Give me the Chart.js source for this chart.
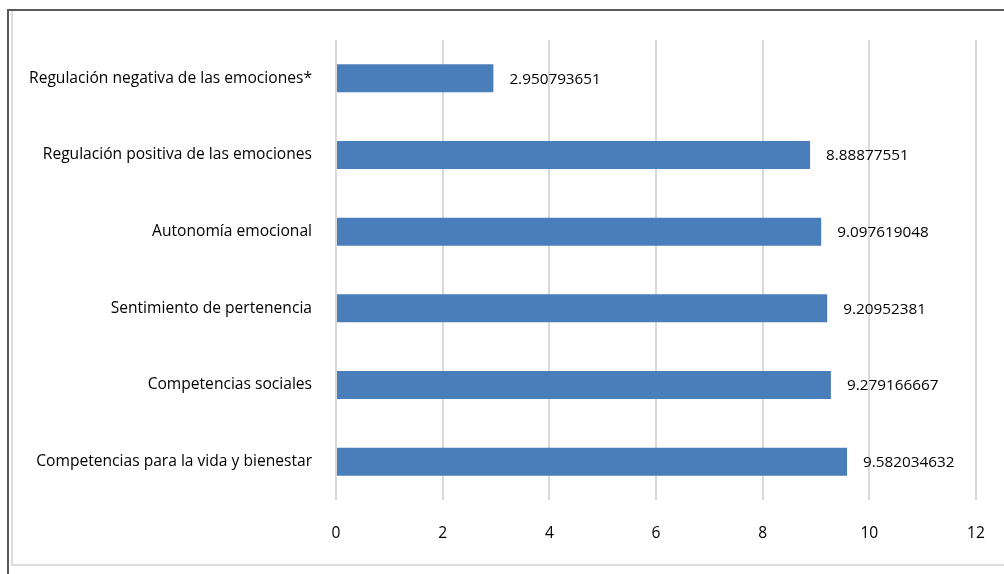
<!DOCTYPE html>
<html lang="es">
<head>
  <meta charset="UTF-8">
  <title>Competencias emocionales</title>
  <script src="https://cdn.jsdelivr.net/npm/chart.js"></script>
  <style>
    html, body { margin: 0; padding: 0; background: #fff; overflow: hidden; }
    .outer { position: absolute; left: 7px; top: 9px; width: 1100px; height: 700px;
             border-left: 2px solid #5a5a5a; border-top: 2px solid #5a5a5a; }
    .inner { position: absolute; left: 11px; top: 11px; width: 1100px; height: 553px;
             border-left: 2px solid #dcdcdc; border-bottom: 2px solid #dcdcdc; }
    .wrap { position: absolute; left: 0; top: 0; width: 1004px; height: 574px; }
  </style>
</head>
<body>
  <div class="outer"></div>
  <div class="inner"></div>
  <div class="wrap"><canvas id="chart"></canvas></div>

<script>
  const categories = [
    'Regulación negativa de las emociones*',
    'Regulación positiva de las emociones',
    'Autonomía emocional',
    'Sentimiento de pertenencia',
    'Competencias sociales',
    'Competencias para la vida y bienestar'
  ];
  const values = [2.950793651, 8.88877551, 9.097619048, 9.20952381, 9.279166667, 9.582034632];
  const valueLabels = ['2.950793651', '8.88877551', '9.097619048', '9.20952381', '9.279166667', '9.582034632'];
  const xTicks = [0, 2, 4, 6, 8, 10, 12];

  const FONT = "'Open Sans', sans-serif";

  // etiquetas de valor a la derecha de cada barra
  const valueLabelPlugin = {
    id: 'valueLabels',
    afterDatasetsDraw(chart) {
      const ctx = chart.ctx;
      const meta = chart.getDatasetMeta(0);
      ctx.save();
      ctx.font = '15.3px ' + FONT;
      ctx.fillStyle = '#000';
      ctx.textAlign = 'left';
      ctx.textBaseline = 'middle';
      meta.data.forEach((bar, i) => {
        ctx.fillText(valueLabels[i], bar.x + 16, bar.y + 1);
      });
      ctx.restore();
    }
  };

  new Chart(document.getElementById('chart'), {
    type: 'bar',
    data: {
      labels: categories,
      datasets: [{
        data: values,
        backgroundColor: '#4a7ebb',
        borderWidth: 0,
        barPercentage: 0.365,
        categoryPercentage: 1
      }]
    },
    options: {
      indexAxis: 'y',
      responsive: true,
      maintainAspectRatio: false,
      animation: false,
      layout: { padding: { top: 40, right: 28, bottom: 0, left: 0 } },
      scales: {
        x: {
          min: 0,
          max: 12,
          afterBuildTicks(scale) { scale.ticks = xTicks.map(v => ({ value: v })); },
          afterFit(scale) {
            scale.height = 74;
            scale.paddingRight = 0;
            scale.paddingLeft = 0;
          },
          grid: { color: '#d9d9d9', lineWidth: 2, drawTicks: false },
          border: { display: false },
          ticks: { color: '#000', padding: 24, font: { family: FONT, size: 15.6 } }
        },
        y: {
          afterFit(scale) { scale.width = 336; },
          grid: { display: false },
          border: { display: false },
          ticks: { color: '#000', padding: 16, font: { family: FONT, size: 15.6 } }
        }
      },
      plugins: {
        legend: { display: false },
        tooltip: { enabled: false }
      }
    },
    plugins: [valueLabelPlugin]
  });
</script>
</body>
</html>
